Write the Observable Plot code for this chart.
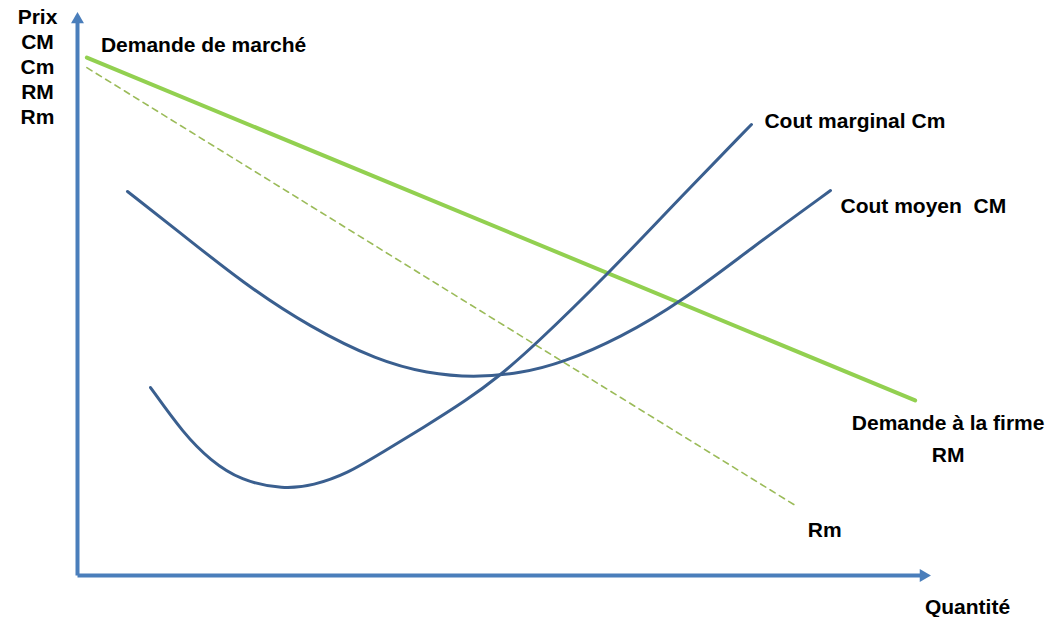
<!DOCTYPE html>
<html>
<head>
<meta charset="utf-8">
<script src="https://cdn.jsdelivr.net/npm/d3@7"></script>
<script src="https://cdn.jsdelivr.net/npm/@observablehq/plot@0.6"></script>
<style>
  html, body { margin: 0; padding: 0; background: #fff; }
  #chart svg { display: block; }
</style>
</head>
<body>
<div id="chart"></div>
<script>
// Coût marginal (Cm)
const quantiteCm = [8.56, 12.43, 15.59, 19.11, 24.15, 27.67, 31.65, 35.52, 40.56, 45.72, 49.24, 53.46, 62.25, 70.34, 79.01];
const prixCm     = [33.39, 25.22, 20.43, 16.87, 15.28, 15.99, 18.12, 21.67, 26.29, 31.26, 35.17, 40.67, 53.64, 66.61, 80.11];
// Coût moyen (CM)
const quantiteCM = [5.86, 11.72, 19.46, 27.32, 35.17, 41.03, 46.42, 51.93, 56.98, 63.66, 70.69, 79.25, 88.28];
const prixCM     = [68.21, 61.28, 51.87, 44.05, 38.19, 35.88, 35.17, 35.88, 37.83, 42.27, 48.49, 58.44, 68.38];
// Demande (recette moyenne RM)
const quantiteRM = [1.1, 98.2];
const prixRM     = [92.0, 31.1];
// Recette marginale (Rm)
const quantiteRm = [1.1, 84.2];
const prixRm     = [90.2, 12.4];
// Axes
const axisMax = 100;
// Labels
const labelYAxis = "Prix\nCM\nCm\nRM\nRm";
const labelXAxis = "Quantité";
const labelCm = "Cout marginal Cm";
const labelCM = "Cout moyen  CM";
const labelMarche = "Demande de marché";
const labelFirme = "Demande à la firme\nRM";
const labelRm = "Rm";

const toPts = (xs, ys) => xs.map((x, i) => ({x, y: ys[i]}));
const cm = toPts(quantiteCm, prixCm);
const CM = toPts(quantiteCM, prixCM);
const RM = toPts(quantiteRM, prixRM);
const Rm = toPts(quantiteRm, prixRm);
const last = a => [a[a.length - 1]];

const axisColor = "#4A7EBB";
const curveColor = "#3A5F8F";
const font = {fontFamily: "'Liberation Sans', Arial, sans-serif", fontWeight: "bold", fontSize: 21, fill: "#000"};

const chart = Plot.plot({
  width: 1061,
  height: 617,
  marginLeft: 77,
  marginRight: 131,
  marginTop: 12,
  marginBottom: 42,
  x: {domain: [0, axisMax], axis: null},
  y: {domain: [0, axisMax], axis: null},
  style: {background: "#fff", overflow: "visible"},
  marks: [
    // axes
    Plot.arrow([{x1: 0, y1: 0, x2: axisMax, y2: 0}], {x1: "x1", y1: "y1", x2: "x2", y2: "y2", headLength: 0, insetEnd: 6, stroke: axisColor, strokeWidth: 4, strokeLinecap: "butt"}),
    Plot.arrow([{x1: 0, y1: 0, x2: 0, y2: axisMax}], {x1: "x1", y1: "y1", x2: "x2", y2: "y2", headLength: 0, insetEnd: 6, stroke: axisColor, strokeWidth: 4, strokeLinecap: "butt"}),
    Plot.dot([{x: axisMax, y: 0}], {x: "x", y: "y", symbol: "triangle", r: 4.8, fill: axisColor, stroke: "none", rotate: 90, dx: -7}),
    Plot.dot([{x: 0, y: axisMax}], {x: "x", y: "y", symbol: "triangle", r: 4.8, fill: axisColor, stroke: "none", dy: 7}),
    // curves
    Plot.line(Rm, {x: "x", y: "y", stroke: "#9BBB59", strokeWidth: 1.6, strokeDasharray: "6,5"}),
    Plot.line(RM, {x: "x", y: "y", stroke: "#92D050", strokeWidth: 4}),
    Plot.line(CM, {x: "x", y: "y", curve: "basis", stroke: curveColor, strokeWidth: 3}),
    Plot.line(cm, {x: "x", y: "y", curve: "basis", stroke: curveColor, strokeWidth: 3}),
    // labels
    Plot.text([{x: 0, y: axisMax}], {x: "x", y: "y", text: () => labelYAxis, ...font, textAnchor: "middle", lineAnchor: "top", lineHeight: 1.19, dx: -40, dy: -6}),
    Plot.text([{x: axisMax, y: 0}], {x: "x", y: "y", text: () => labelXAxis, ...font, textAnchor: "middle", dx: 37, dy: 32}),
    Plot.text(last(cm), {x: "x", y: "y", text: () => labelCm, ...font, textAnchor: "start", dx: 13, dy: -3}),
    Plot.text(last(CM), {x: "x", y: "y", text: () => labelCM, ...font, textAnchor: "start", dx: 10, dy: 16}),
    Plot.text([RM[0]], {x: "x", y: "y", text: () => labelMarche, ...font, textAnchor: "start", dx: 14, dy: -12}),
    Plot.text(last(RM), {x: "x", y: "y", text: () => labelFirme, ...font, textAnchor: "middle", lineHeight: 1.52, dx: 33, dy: 35}),
    Plot.text(last(Rm), {x: "x", y: "y", text: () => labelRm, ...font, textAnchor: "start", dx: 12, dy: 25})
  ]
});
document.getElementById("chart").appendChild(chart);
</script>
</body>
</html>
